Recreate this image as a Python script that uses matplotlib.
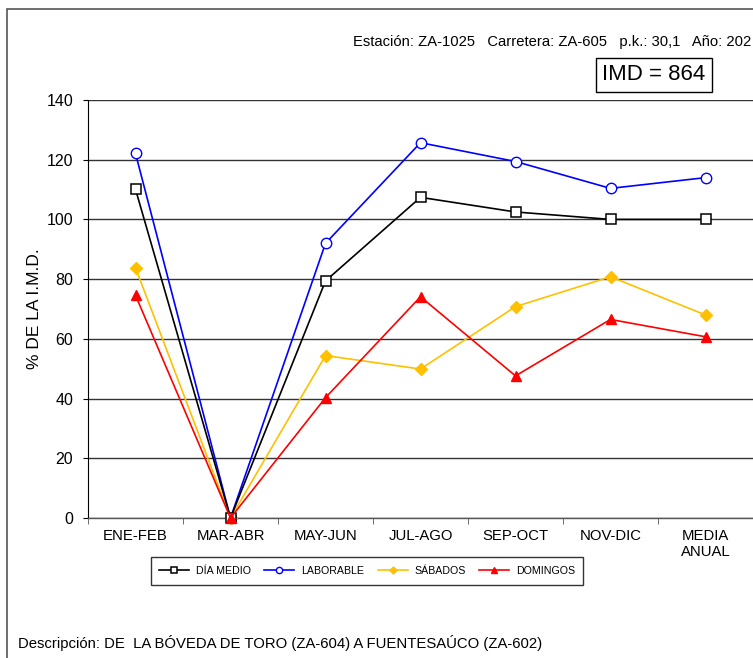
import matplotlib.pyplot as plt
from matplotlib.patches import Rectangle
import numpy as np

plt.rcParams['font.family'] = ['Liberation Sans', 'DejaVu Sans']

# datos
periodos = ["ENE-FEB", "MAR-ABR", "MAY-JUN", "JUL-AGO", "SEP-OCT", "NOV-DIC", "MEDIA\nANUAL"]
dia_medio = [110.1, 0, 79.4, 107.4, 102.5, 100.0, 100.0]
laborable = [122.1, 0, 92.0, 125.7, 119.4, 110.4, 114.0]
sabados = [83.8, 0, 54.4, 49.9, 70.8, 80.8, 68.0]
domingos = [74.6, 0, 40.3, 74.1, 47.6, 66.5, 60.7]

W, H = 753, 658
fig = plt.figure(figsize=(W / 100, H / 100), dpi=100)

# marco exterior
fig.patches.append(Rectangle((7 / W, -0.1), 1.2, 1 - 9 / H + 0.1, transform=fig.transFigure,
                             fill=False, edgecolor='#555555', linewidth=1.2))

ax = fig.add_axes([88 / W, 1 - 518 / H, (W - 88) / W, 418 / H])
x = np.arange(len(periodos))

ax.plot(x, dia_medio, color='black', lw=1.2, marker='s', ms=7, mfc='white', mec='black',
        mew=1.1, label='DÍA MEDIO', clip_on=False, zorder=4)
ax.plot(x, laborable, color='#0000FF', lw=1.2, marker='o', ms=7.5, mfc='white', mec='#0000FF',
        mew=1.0, label='LABORABLE', clip_on=False, zorder=3)
ax.plot(x, sabados, color='#FFC000', lw=1.2, marker='D', ms=6, mfc='#FFC000', mec='#FFC000',
        label='SÁBADOS', clip_on=False, zorder=3)
ax.plot(x, domingos, color='#FF0000', lw=1.2, marker='^', ms=7.5, mfc='#FF0000', mec='#FF0000',
        label='DOMINGOS', clip_on=False, zorder=5)

ax.set_xlim(-0.5, len(periodos) - 0.5)
ax.set_ylim(0, 140)
ax.set_yticks(np.arange(0, 141, 20))
ax.set_xticks(x)
ax.set_xticklabels(periodos, fontsize=10.7)
ax.set_xticks(np.arange(-0.5, len(periodos), 1), minor=True)
ax.tick_params(axis='x', which='major', length=0, pad=8)
ax.tick_params(axis='x', which='minor', length=4, direction='out', color='#555555')
ax.tick_params(axis='y', length=3.6, labelsize=11.5, direction='out', pad=7)
ax.yaxis.grid(True, color='#333333', linewidth=1.0)
ax.set_axisbelow(True)
for s in ['top', 'right']:
    ax.spines[s].set_visible(False)
ax.spines['left'].set_color('black')
ax.spines['bottom'].set_color('#555555')
ax.spines['bottom'].set_linewidth(1.0)
ax.set_ylabel('% DE LA I.M.D.', fontsize=12.5, labelpad=3)

leg = fig.legend(loc='center', bbox_to_anchor=(367 / W, 1 - 571 / H), ncol=4, fontsize=7.7,
                 frameon=True, fancybox=False, edgecolor='black', handlelength=2.8,
                 columnspacing=1.3, handletextpad=0.6, borderpad=0.8, markerscale=0.6)
leg.get_frame().set_linewidth(1.0)

fig.text(353 / W, 1 - 42 / H, 'Estación: ZA-1025   Carretera: ZA-605   p.k.: 30,1   Año: 202',
         fontsize=10.6, va='center', ha='left')
fig.text(654 / W, 1 - 75 / H, 'IMD = 864', fontsize=16, ha='center', va='center',
         bbox=dict(boxstyle='square,pad=0.28', facecolor='white', edgecolor='black', linewidth=1.0))
fig.text(18 / W, 1 - 643 / H, 'Descripción: DE  LA BÓVEDA DE TORO (ZA-604) A FUENTESAÚCO (ZA-602)',
         fontsize=10.7, va='center', ha='left')

fig.savefig('out.png', dpi=100)
